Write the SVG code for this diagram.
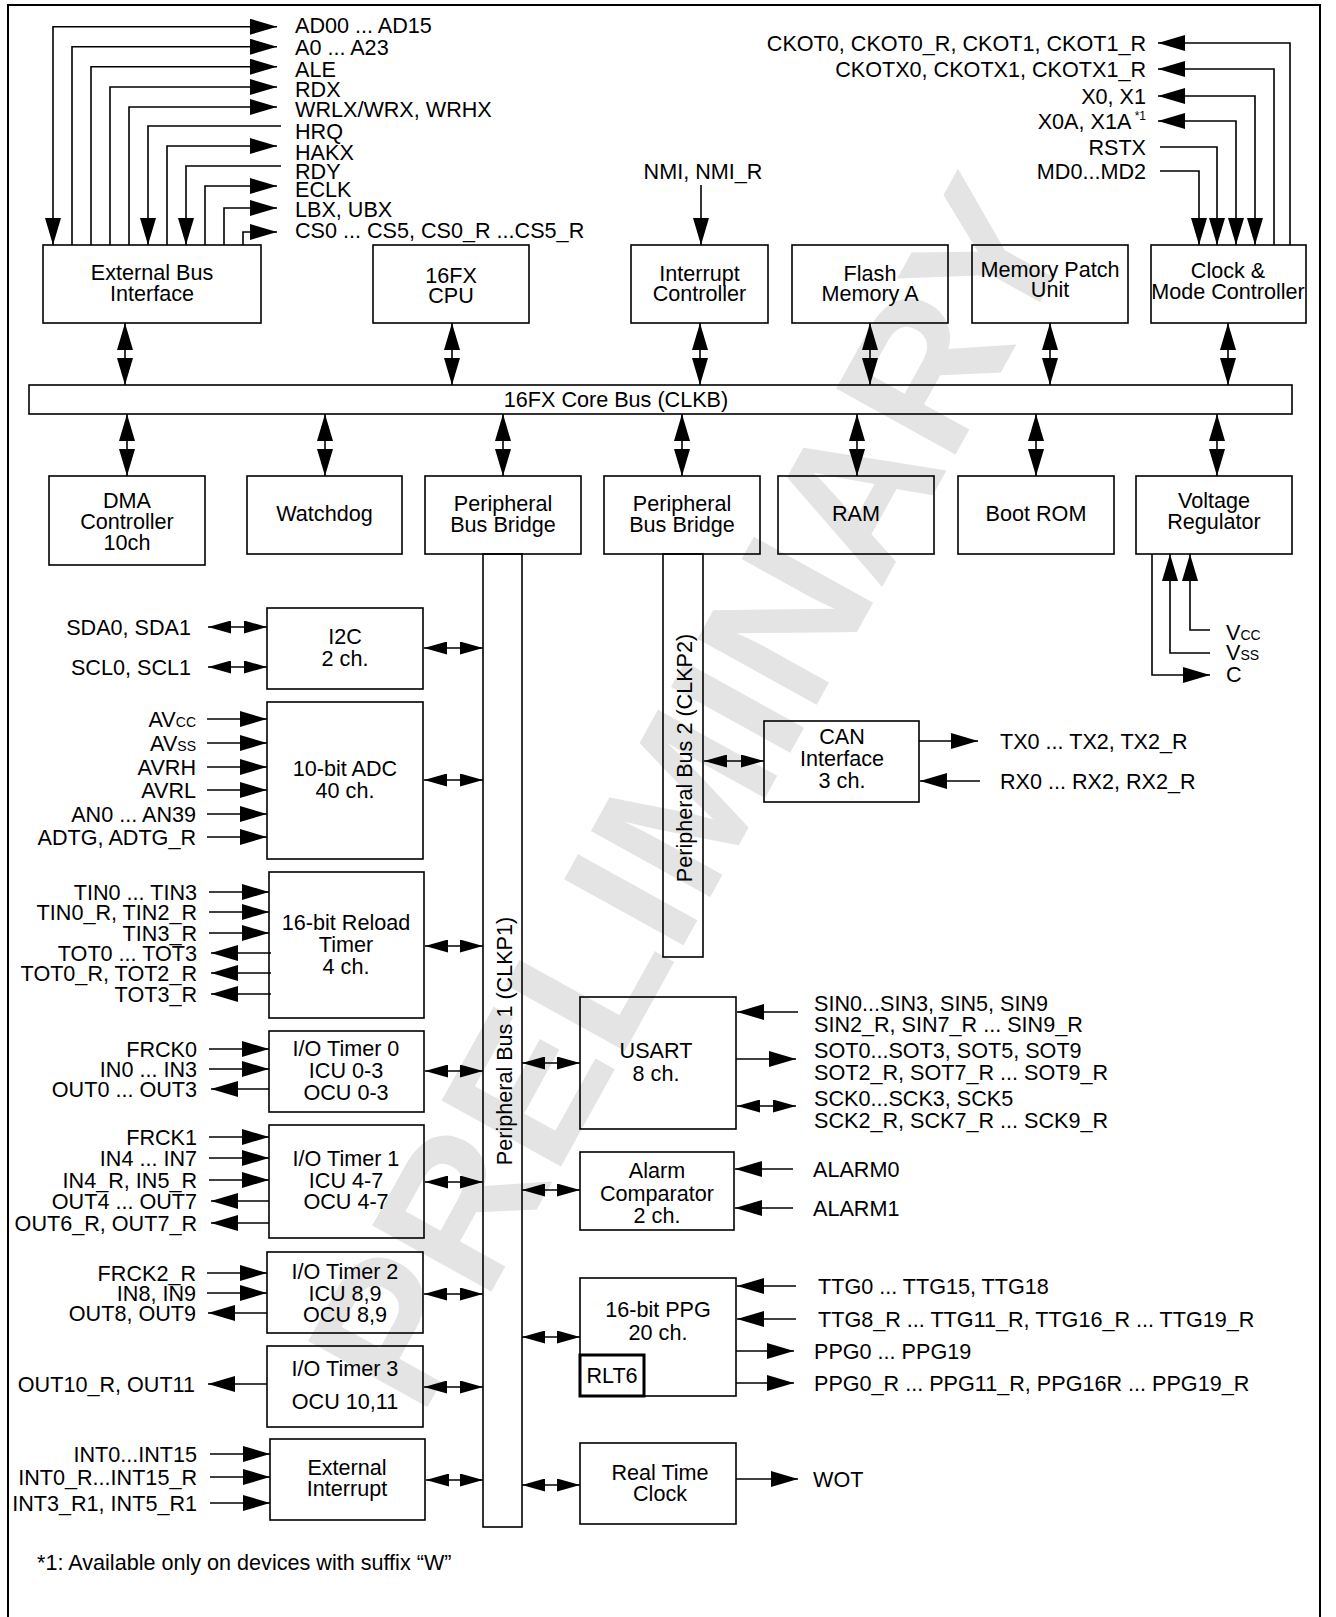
<svg xmlns="http://www.w3.org/2000/svg" width="1336" height="1617" viewBox="0 0 1336 1617">
<style>
text{font-family:"Liberation Sans",Arial,Helvetica,sans-serif;font-size:21.6px;fill:#000}
.m{text-anchor:middle}
.e{text-anchor:end}
.b{fill:none;stroke:#000;stroke-width:1.6}
.l{fill:none;stroke:#000;stroke-width:1.6}
.sub{font-size:14px}
.wm{font-family:"Liberation Sans",Arial,sans-serif;font-weight:bold;font-size:198px;fill:#e4e4e4}
</style>
<defs>
<marker id="a" markerUnits="userSpaceOnUse" viewBox="0 0 27 16" markerWidth="27" markerHeight="16" refX="27" refY="8" orient="auto-start-reverse"><path d="M0,0 L27,8 L0,16 Z" fill="#000"/></marker>
<marker id="s" markerUnits="userSpaceOnUse" viewBox="0 0 23 13" markerWidth="23" markerHeight="13" refX="23" refY="6.5" orient="auto-start-reverse"><path d="M0,0 L23,6.5 L0,13 Z" fill="#000"/></marker>
</defs>
<rect x="0" y="0" width="1336" height="1617" fill="#fff"/>
<text class="wm" text-anchor="middle" dominant-baseline="central" transform="translate(690,792) rotate(-61)">PRELIMINARY</text>
<rect x="8" y="5" width="1312" height="1630" fill="none" stroke="#000" stroke-width="2"/>

<g id="ebi"><rect class="b" x="43" y="245" width="218" height="78"/><text class="m" x="152" y="279.5">External Bus</text><text class="m" x="152" y="300.5">Interface</text></g>
<g id="cpu"><rect class="b" x="373" y="245" width="156" height="78"/><text class="m" x="451" y="282.5">16FX</text><text class="m" x="451" y="302.5">CPU</text></g>
<g id="intc"><rect class="b" x="631" y="245" width="137" height="78"/><text class="m" x="699.5" y="280.5">Interrupt</text><text class="m" x="699.5" y="300.5">Controller</text></g>
<g id="flash"><rect class="b" x="792" y="245" width="156" height="78"/><text class="m" x="870" y="280.5">Flash</text><text class="m" x="870" y="300.5">Memory A</text></g>
<g id="mpu"><rect class="b" x="972" y="245" width="156" height="78"/><text class="m" x="1050" y="276.5">Memory Patch</text><text class="m" x="1050" y="296.5">Unit</text></g>
<g id="clk"><rect class="b" x="1151" y="245" width="155" height="78"/><text class="m" x="1228" y="277.5">Clock &amp;</text><text class="m" x="1228" y="298.5">Mode Controller</text></g>

<g id="corebus"><rect class="b" x="29" y="385" width="1263" height="29"/><text class="m" x="616" y="407">16FX Core Bus (CLKB)</text></g>

<g id="dma"><rect class="b" x="49" y="476" width="156" height="89"/><text class="m" x="127" y="507.5">DMA</text><text class="m" x="127" y="528.5">Controller</text><text class="m" x="127" y="549.5">10ch</text></g>
<g id="wdg"><rect class="b" x="247" y="476" width="155" height="78"/><text class="m" x="324.5" y="520.5">Watchdog</text></g>
<g id="pbb1"><rect class="b" x="425" y="476" width="156" height="78"/><text class="m" x="503" y="510.5">Peripheral</text><text class="m" x="503" y="531.5">Bus Bridge</text></g>
<g id="pbb2"><rect class="b" x="604" y="476" width="156" height="78"/><text class="m" x="682" y="510.5">Peripheral</text><text class="m" x="682" y="531.5">Bus Bridge</text></g>
<g id="ram"><rect class="b" x="778" y="476" width="156" height="78"/><text class="m" x="856" y="520.5">RAM</text></g>
<g id="brom"><rect class="b" x="958" y="476" width="156" height="78"/><text class="m" x="1036" y="520.5">Boot ROM</text></g>
<g id="vreg"><rect class="b" x="1136" y="476" width="156" height="78"/><text class="m" x="1214" y="507.5">Voltage</text><text class="m" x="1214" y="528.5">Regulator</text></g>

<g id="pbus1"><rect class="b" x="483" y="554" width="39" height="973"/><text class="m" dominant-baseline="central" transform="translate(504,1041) rotate(-90)">Peripheral Bus 1 (CLKP1)</text></g>
<g id="pbus2"><rect class="b" x="663" y="554" width="40" height="403"/><text class="m" dominant-baseline="central" transform="translate(684,758) rotate(-90)">Peripheral Bus 2 (CLKP2)</text></g>

<g id="i2c"><rect class="b" x="267" y="608" width="156" height="81"/><text class="m" x="345" y="643.5">I2C</text><text class="m" x="345" y="665.5">2 ch.</text></g>
<g id="adc"><rect class="b" x="267" y="702" width="156" height="157"/><text class="m" x="345" y="775.5">10-bit ADC</text><text class="m" x="345" y="797.5">40 ch.</text></g>
<g id="rlt"><rect class="b" x="269" y="872" width="155" height="146"/><text class="m" x="346" y="929.5">16-bit Reload</text><text class="m" x="346" y="951.5">Timer</text><text class="m" x="346" y="973.5">4 ch.</text></g>
<g id="iot0"><rect class="b" x="269" y="1031" width="155" height="81"/><text class="m" x="346" y="1055.5">I/O Timer 0</text><text class="m" x="346" y="1077.5">ICU 0-3</text><text class="m" x="346" y="1099.5">OCU 0-3</text></g>
<g id="iot1"><rect class="b" x="269" y="1125" width="155" height="113"/><text class="m" x="346" y="1165.5">I/O Timer 1</text><text class="m" x="346" y="1187.5">ICU 4-7</text><text class="m" x="346" y="1208.5">OCU 4-7</text></g>
<g id="iot2"><rect class="b" x="267" y="1252" width="156" height="81"/><text class="m" x="345" y="1278.5">I/O Timer 2</text><text class="m" x="345" y="1300.5">ICU 8,9</text><text class="m" x="345" y="1321.5">OCU 8,9</text></g>
<g id="iot3"><rect class="b" x="267" y="1346" width="156" height="81"/><text class="m" x="345" y="1375.5">I/O Timer 3</text><text class="m" x="345" y="1408.5">OCU 10,11</text></g>
<g id="extint"><rect class="b" x="270" y="1439" width="155" height="81"/><text class="m" x="347" y="1474.5">External</text><text class="m" x="347" y="1495.5">Interrupt</text></g>

<g id="can"><rect class="b" x="764" y="721" width="155" height="81"/><text class="m" x="842" y="743.5">CAN</text><text class="m" x="842" y="765.5">Interface</text><text class="m" x="842" y="787.5">3 ch.</text></g>
<g id="usart"><rect class="b" x="580" y="997" width="156" height="132"/><text class="m" x="656" y="1057.5">USART</text><text class="m" x="656" y="1080.5">8 ch.</text></g>
<g id="alarm"><rect class="b" x="580" y="1152" width="154" height="78"/><text class="m" x="657" y="1177.5">Alarm</text><text class="m" x="657" y="1200.5">Comparator</text><text class="m" x="657" y="1222.5">2 ch.</text></g>
<g id="ppg"><rect class="b" x="580" y="1278" width="156" height="118"/><text class="m" x="658" y="1316.5">16-bit PPG</text><text class="m" x="658" y="1339.5">20 ch.</text><rect x="580" y="1355" width="64" height="41" fill="none" stroke="#000" stroke-width="3"/><text class="m" x="612" y="1382.5">RLT6</text></g>
<g id="rtc"><rect class="b" x="580" y="1443" width="156" height="81"/><text class="m" x="660" y="1479.5">Real Time</text><text class="m" x="660" y="1500.5">Clock</text></g>

<g id="connectors">
<path class="l" d="M53,245 V26.7 H277" marker-start="url(#a)" marker-end="url(#a)"/>
<path class="l" d="M72,245 V46.7 H277" marker-end="url(#a)"/>
<path class="l" d="M91,245 V66.7 H277" marker-end="url(#a)"/>
<path class="l" d="M110,245 V87 H277" marker-end="url(#a)"/>
<path class="l" d="M129,245 V107 H277" marker-end="url(#a)"/>
<path class="l" d="M281,126 H148 V245" marker-end="url(#a)"/>
<path class="l" d="M167,245 V146 H277" marker-end="url(#a)"/>
<path class="l" d="M281,166 H186 V245" marker-end="url(#a)"/>
<path class="l" d="M205,245 V186 H277" marker-end="url(#a)"/>
<path class="l" d="M224,245 V208 H277" marker-end="url(#a)"/>
<path class="l" d="M243,245 V232 H277" marker-end="url(#a)"/>
<path class="l" d="M1290,245 V43 H1158" marker-end="url(#a)"/>
<path class="l" d="M1274,245 V69 H1158" marker-end="url(#a)"/>
<path class="l" d="M1255,245 V96 H1158" marker-start="url(#a)" marker-end="url(#a)"/>
<path class="l" d="M1236,245 V121 H1158" marker-start="url(#a)" marker-end="url(#a)"/>
<path class="l" d="M1160,147 H1217 V245" marker-end="url(#a)"/>
<path class="l" d="M1160,171 H1199 V245" marker-end="url(#a)"/>
<line class="l" x1="701" y1="185" x2="701" y2="245" marker-end="url(#a)"/>
<line class="l" x1="125" y1="323" x2="125" y2="385" marker-start="url(#a)" marker-end="url(#a)"/>
<line class="l" x1="452" y1="323" x2="452" y2="385" marker-start="url(#a)" marker-end="url(#a)"/>
<line class="l" x1="700" y1="323" x2="700" y2="385" marker-start="url(#a)" marker-end="url(#a)"/>
<line class="l" x1="870" y1="323" x2="870" y2="385" marker-start="url(#a)" marker-end="url(#a)"/>
<line class="l" x1="1050" y1="323" x2="1050" y2="385" marker-start="url(#a)" marker-end="url(#a)"/>
<line class="l" x1="1228" y1="323" x2="1228" y2="385" marker-start="url(#a)" marker-end="url(#a)"/>
<line class="l" x1="127" y1="414" x2="127" y2="476" marker-start="url(#a)" marker-end="url(#a)"/>
<line class="l" x1="325" y1="414" x2="325" y2="476" marker-start="url(#a)" marker-end="url(#a)"/>
<line class="l" x1="503" y1="414" x2="503" y2="476" marker-start="url(#a)" marker-end="url(#a)"/>
<line class="l" x1="682" y1="414" x2="682" y2="476" marker-start="url(#a)" marker-end="url(#a)"/>
<line class="l" x1="857" y1="414" x2="857" y2="476" marker-start="url(#a)" marker-end="url(#a)"/>
<line class="l" x1="1036" y1="414" x2="1036" y2="476" marker-start="url(#a)" marker-end="url(#a)"/>
<line class="l" x1="1217" y1="414" x2="1217" y2="476" marker-start="url(#a)" marker-end="url(#a)"/>
<path class="l" d="M1152,554 V675 H1210" marker-end="url(#a)"/>
<path class="l" d="M1210,653 H1170 V554" marker-end="url(#a)"/>
<path class="l" d="M1210,630 H1190 V554" marker-end="url(#a)"/>
<line class="l" x1="208" y1="627" x2="267" y2="627" marker-start="url(#s)" marker-end="url(#s)"/>
<line class="l" x1="208" y1="667" x2="267" y2="667" marker-start="url(#s)" marker-end="url(#s)"/>
<line class="l" x1="207" y1="719" x2="267" y2="719" marker-end="url(#a)"/>
<line class="l" x1="207" y1="743" x2="267" y2="743" marker-end="url(#a)"/>
<line class="l" x1="207" y1="767" x2="267" y2="767" marker-end="url(#a)"/>
<line class="l" x1="207" y1="790" x2="267" y2="790" marker-end="url(#a)"/>
<line class="l" x1="207" y1="814" x2="267" y2="814" marker-end="url(#a)"/>
<line class="l" x1="207" y1="837" x2="267" y2="837" marker-end="url(#a)"/>
<line class="l" x1="209" y1="892" x2="269" y2="892" marker-end="url(#a)"/>
<line class="l" x1="209" y1="912" x2="269" y2="912" marker-end="url(#a)"/>
<line class="l" x1="209" y1="933" x2="269" y2="933" marker-end="url(#a)"/>
<line class="l" x1="271" y1="953" x2="211" y2="953" marker-end="url(#a)"/>
<line class="l" x1="271" y1="973" x2="211" y2="973" marker-end="url(#a)"/>
<line class="l" x1="271" y1="994" x2="211" y2="994" marker-end="url(#a)"/>
<line class="l" x1="209" y1="1049" x2="269" y2="1049" marker-end="url(#a)"/>
<line class="l" x1="209" y1="1069" x2="269" y2="1069" marker-end="url(#a)"/>
<line class="l" x1="269" y1="1089" x2="211" y2="1089" marker-end="url(#a)"/>
<line class="l" x1="209" y1="1137" x2="269" y2="1137" marker-end="url(#a)"/>
<line class="l" x1="209" y1="1158" x2="269" y2="1158" marker-end="url(#a)"/>
<line class="l" x1="209" y1="1180" x2="269" y2="1180" marker-end="url(#a)"/>
<line class="l" x1="269" y1="1201" x2="211" y2="1201" marker-end="url(#a)"/>
<line class="l" x1="269" y1="1223" x2="211" y2="1223" marker-end="url(#a)"/>
<line class="l" x1="207" y1="1273" x2="267" y2="1273" marker-end="url(#a)"/>
<line class="l" x1="207" y1="1293" x2="267" y2="1293" marker-end="url(#a)"/>
<line class="l" x1="267" y1="1313" x2="208" y2="1313" marker-end="url(#a)"/>
<line class="l" x1="267" y1="1384" x2="208" y2="1384" marker-end="url(#a)"/>
<line class="l" x1="210" y1="1454" x2="270" y2="1454" marker-end="url(#a)"/>
<line class="l" x1="210" y1="1477" x2="270" y2="1477" marker-end="url(#a)"/>
<line class="l" x1="210" y1="1503" x2="270" y2="1503" marker-end="url(#a)"/>
<line class="l" x1="424" y1="648" x2="483" y2="648" marker-start="url(#s)" marker-end="url(#s)"/>
<line class="l" x1="424" y1="780" x2="483" y2="780" marker-start="url(#s)" marker-end="url(#s)"/>
<line class="l" x1="425" y1="946" x2="483" y2="946" marker-start="url(#s)" marker-end="url(#s)"/>
<line class="l" x1="425" y1="1071" x2="483" y2="1071" marker-start="url(#s)" marker-end="url(#s)"/>
<line class="l" x1="425" y1="1182" x2="483" y2="1182" marker-start="url(#s)" marker-end="url(#s)"/>
<line class="l" x1="424" y1="1294" x2="483" y2="1294" marker-start="url(#s)" marker-end="url(#s)"/>
<line class="l" x1="424" y1="1387" x2="483" y2="1387" marker-start="url(#s)" marker-end="url(#s)"/>
<line class="l" x1="426" y1="1480" x2="483" y2="1480" marker-start="url(#s)" marker-end="url(#s)"/>
<line class="l" x1="522" y1="1063" x2="580" y2="1063" marker-start="url(#s)" marker-end="url(#s)"/>
<line class="l" x1="522" y1="1190" x2="580" y2="1190" marker-start="url(#s)" marker-end="url(#s)"/>
<line class="l" x1="522" y1="1337" x2="580" y2="1337" marker-start="url(#s)" marker-end="url(#s)"/>
<line class="l" x1="522" y1="1485" x2="580" y2="1485" marker-start="url(#s)" marker-end="url(#s)"/>
<line class="l" x1="704" y1="761" x2="764" y2="761" marker-start="url(#s)" marker-end="url(#s)"/>
<line class="l" x1="919" y1="741" x2="978" y2="741" marker-end="url(#a)"/>
<line class="l" x1="980" y1="781" x2="920" y2="781" marker-end="url(#a)"/>
<line class="l" x1="798" y1="1012" x2="737" y2="1012" marker-end="url(#a)"/>
<line class="l" x1="736" y1="1059" x2="796" y2="1059" marker-end="url(#a)"/>
<line class="l" x1="737" y1="1106" x2="796" y2="1106" marker-start="url(#s)" marker-end="url(#s)"/>
<line class="l" x1="793" y1="1169" x2="735" y2="1169" marker-end="url(#a)"/>
<line class="l" x1="793" y1="1208" x2="735" y2="1208" marker-end="url(#a)"/>
<line class="l" x1="796" y1="1286" x2="737" y2="1286" marker-end="url(#a)"/>
<line class="l" x1="796" y1="1319" x2="737" y2="1319" marker-end="url(#a)"/>
<line class="l" x1="736" y1="1351" x2="794" y2="1351" marker-end="url(#a)"/>
<line class="l" x1="736" y1="1383" x2="794" y2="1383" marker-end="url(#a)"/>
<line class="l" x1="736" y1="1479" x2="798" y2="1479" marker-end="url(#a)"/>
</g>

<g id="labels">
<text x="295" y="32.5">AD00 ... AD15</text>
<text x="295" y="55">A0 ... A23</text>
<text x="295" y="76.5">ALE</text>
<text x="295" y="96.5">RDX</text>
<text x="295" y="116.5">WRLX/WRX, WRHX</text>
<text x="295" y="138.5">HRQ</text>
<text x="295" y="159.5">HAKX</text>
<text x="295" y="178.5">RDY</text>
<text x="295" y="196.5">ECLK</text>
<text x="295" y="216.5">LBX, UBX</text>
<text x="295" y="237.5">CS0 ... CS5, CS0_R ...CS5_R</text>
<text class="m" x="703" y="178.5">NMI, NMI_R</text>
<text class="e" x="1146" y="50.5">CKOT0, CKOT0_R, CKOT1, CKOT1_R</text>
<text class="e" x="1146" y="76.5">CKOTX0, CKOTX1, CKOTX1_R</text>
<text class="e" x="1146" y="103.5">X0, X1</text>
<text class="e" x="1146" y="128.5">X0A, X1A<tspan font-size="12" dy="-9"> *1</tspan></text>
<text class="e" x="1146" y="154.5">RSTX</text>
<text class="e" x="1146" y="178.5">MD0...MD2</text>
<text x="1226" y="640">V<tspan class="sub">CC</tspan></text>
<text x="1226" y="660">V<tspan class="sub">SS</tspan></text>
<text x="1226" y="682">C</text>
<text class="e" x="191" y="634.5">SDA0, SDA1</text>
<text class="e" x="191" y="674.5">SCL0, SCL1</text>
<text class="e" x="196" y="726.5">AV<tspan class="sub">CC</tspan></text>
<text class="e" x="196" y="750.5">AV<tspan class="sub">SS</tspan></text>
<text class="e" x="196" y="774.5">AVRH</text>
<text class="e" x="196" y="797.5">AVRL</text>
<text class="e" x="196" y="821.5">AN0 ... AN39</text>
<text class="e" x="196" y="844.5">ADTG, ADTG_R</text>
<text class="e" x="197" y="899.5">TIN0 ... TIN3</text>
<text class="e" x="197" y="919.5">TIN0_R, TIN2_R</text>
<text class="e" x="197" y="940.5">TIN3_R</text>
<text class="e" x="197" y="960.5">TOT0 ... TOT3</text>
<text class="e" x="197" y="980.5">TOT0_R, TOT2_R</text>
<text class="e" x="197" y="1001.5">TOT3_R</text>
<text class="e" x="197" y="1056.5">FRCK0</text>
<text class="e" x="197" y="1076.5">IN0 ... IN3</text>
<text class="e" x="197" y="1096.5">OUT0 ... OUT3</text>
<text class="e" x="197" y="1144.5">FRCK1</text>
<text class="e" x="197" y="1165.5">IN4 ... IN7</text>
<text class="e" x="197" y="1187.5">IN4_R, IN5_R</text>
<text class="e" x="197" y="1208.5">OUT4 ... OUT7</text>
<text class="e" x="197" y="1230.5">OUT6_R, OUT7_R</text>
<text class="e" x="196" y="1280.5">FRCK2_R</text>
<text class="e" x="196" y="1300.5">IN8, IN9</text>
<text class="e" x="196" y="1320.5">OUT8, OUT9</text>
<text class="e" x="195" y="1391.5">OUT10_R, OUT11</text>
<text class="e" x="197" y="1461.5">INT0...INT15</text>
<text class="e" x="197" y="1484.5">INT0_R...INT15_R</text>
<text class="e" x="197" y="1510.5">INT3_R1, INT5_R1</text>
<text x="1000" y="748.5">TX0 ... TX2, TX2_R</text>
<text x="1000" y="788.5">RX0 ... RX2, RX2_R</text>
<text x="814" y="1010.5">SIN0...SIN3, SIN5, SIN9</text>
<text x="814" y="1031.5">SIN2_R, SIN7_R ... SIN9_R</text>
<text x="814" y="1057.5">SOT0...SOT3, SOT5, SOT9</text>
<text x="814" y="1079.5">SOT2_R, SOT7_R ... SOT9_R</text>
<text x="814" y="1105.5">SCK0...SCK3, SCK5</text>
<text x="814" y="1127.5">SCK2_R, SCK7_R ... SCK9_R</text>
<text x="813" y="1176.5">ALARM0</text>
<text x="813" y="1215.5">ALARM1</text>
<text x="818" y="1293.5">TTG0 ... TTG15, TTG18</text>
<text x="818" y="1326.5">TTG8_R ... TTG11_R, TTG16_R ... TTG19_R</text>
<text x="814" y="1358.5">PPG0 ... PPG19</text>
<text x="814" y="1390.5">PPG0_R ... PPG11_R, PPG16R ... PPG19_R</text>
<text x="813" y="1486.5">WOT</text>
<text x="37" y="1569.5">*1: Available only on devices with suffix “W”</text>
</g>
</svg>
